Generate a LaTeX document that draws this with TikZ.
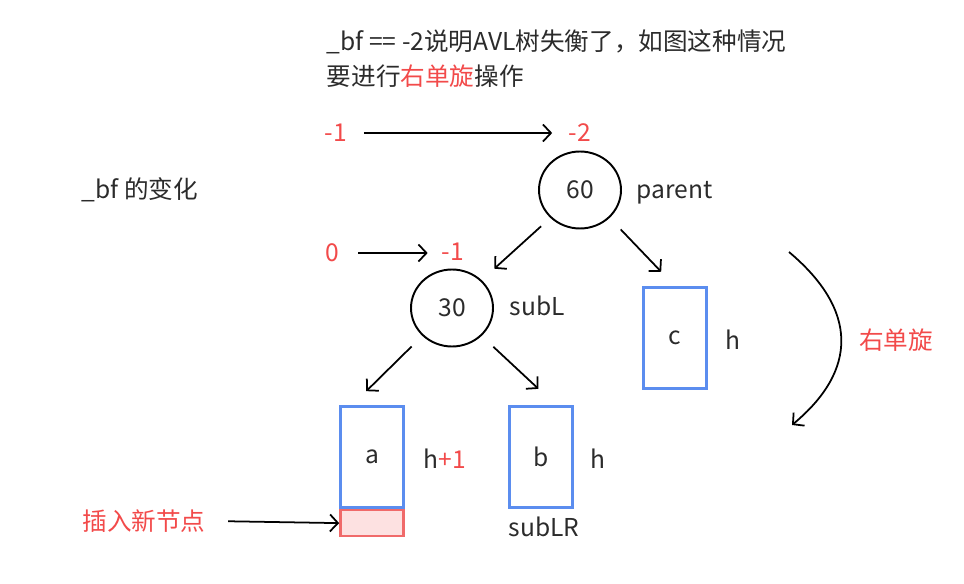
\documentclass[tikz,border=0pt]{standalone}
\usepackage{fontspec}
\setmainfont{Noto Sans CJK SC}
\usetikzlibrary{shapes.geometric,arrows.meta}

\definecolor{bfred}{HTML}{F24A4A}
\definecolor{treeblue}{HTML}{5B8DEF}
\definecolor{txtgray}{HTML}{2B2B2B}
\definecolor{newfill}{HTML}{FDE1E1}
\definecolor{newdraw}{HTML}{F06A6A}

\tikzset{
  every node/.style={text=txtgray, font=\fontsize{14pt}{17pt}\selectfont},
  avl/.style={ellipse, draw, line width=1.1pt, minimum width=1.64cm, minimum height=1.54cm},
  subtree/.style={draw=treeblue, line width=1.5pt, minimum width=1.26cm, minimum height=2.02cm},
  bf/.style={text=bfred},
  lbl/.style={anchor=west, inner sep=0pt}
}

\begin{document}
\begin{tikzpicture}[x=0.02cm, y=-0.02cm, line width=1pt,
    >={Straight Barb[length=1.6mm, width=3.4mm]}]
  \useasboundingbox (0,0) rectangle (964,584);

  % text on top
  \node[lbl] (title1) at (326,42) {\_bf == -2说明AVL树失衡了，如图这种情况};
  \node[lbl] (title2) at (326,76) {要进行\textcolor{bfred}{右单旋}操作};
  \node (bfchange) at (140,190) {\_bf 的变化};

  % the tree
  \node[avl] (parent) at (580,190) {60};
  \node[lbl] (parentname) at (636,193) {parent};
  \node[avl] (subL) at (452,308) {30};
  \node[lbl] (subLname) at (509,306) {subL};

  \node[subtree] (c) at (675,338) {c};
  \node (hc) at (733,340) {h};
  \node[subtree] (a) at (372,457) {a};
  \node[lbl] (ha) at (423,459) {h\textcolor{bfred}{+1}};
  \node[subtree] (b) at (541,457) {b};
  \node (hb) at (598,459) {h};
  \node (subLR) at (544,527) {subLR};

  % new node under a
  \node[draw=newdraw, fill=newfill, line width=1.5pt, minimum width=1.26cm, minimum height=0.52cm,
        anchor=north] (new) at (a.south) {};
  \node[bf] (insert) at (144,521) {插入新节点};

  % balance factors
  \node[bf] (bfp0) at (336,133) {-1};
  \node[bf] (bfp1) at (580,133) {-2};
  \node[bf] (bfs0) at (332,253) {0};
  \node[bf] (bfs1) at (453,252) {-1};

  \draw[->, shorten <=0.2cm, shorten >=0.2cm] (bfp0.east) -- (bfp1.west);
  \draw[->, shorten <=0.25cm, shorten >=0.15cm] (bfs0.east) -- (bfs0.east -| bfs1.west);

  \draw[->, shorten <=0.25cm, shorten >=0.34cm] (parent.south west) -- (subL.north east);
  \draw[->, shorten <=0.32cm, shorten >=0.4cm] (parent.south east) -- (c.north);
  \draw[->, shorten <=0.3cm, shorten >=0.4cm] (subL.south west) -- ([xshift=-0.4cm]a.north);
  \draw[->, shorten <=0.32cm, shorten >=0.48cm] (subL.south east) -- ([xshift=0.3cm]b.north);

  \draw[->, shorten <=0.32cm] (insert.east) -- (new.west);

  % right rotation
  \coordinate (rot1) at (789,252);
  \coordinate (rot2) at (792,425);
  \draw[->] (rot1) .. controls (858,310) and (858,370) .. (rot2);
  \node[bf] (rotname) at (896,340) {右单旋};
\end{tikzpicture}
\end{document}
